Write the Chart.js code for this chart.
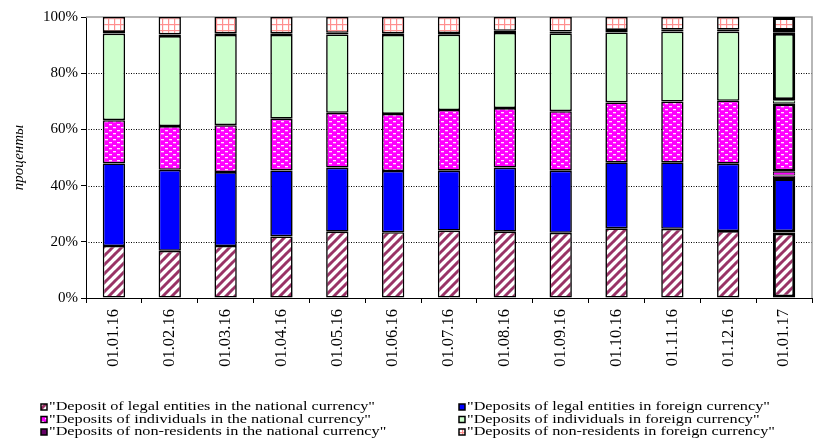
<!DOCTYPE html>
<html>
<head>
<meta charset="utf-8">
<script src="https://cdn.jsdelivr.net/npm/chart.js@4/dist/chart.umd.min.js"></script>
<style>
  html, body { margin: 0; padding: 0; background: #fff; }
  #wrap { width: 821px; height: 443px; position: relative; }
</style>
</head>
<body>
<div id="wrap"><canvas id="depositsChart"></canvas></div>
<script>
// data (share of total deposits, %)
const dates = ['01.01.16', '01.02.16', '01.03.16', '01.04.16', '01.05.16', '01.06.16', '01.07.16',
               '01.08.16', '01.09.16', '01.10.16', '01.11.16', '01.12.16', '01.01.17'];
const legalNational   = [18.5, 16.8, 18.5, 21.9, 23.6, 23.4, 24.0, 23.6, 23.2, 24.8, 24.6, 23.8, 23.3];
const legalForeign    = [29.4, 28.8, 26.3, 23.5, 22.8, 21.8, 21.3, 22.8, 22.1, 23.5, 23.7, 24.0, 19.4];
const indivNational   = [15.4, 15.6, 16.7, 18.4, 19.5, 20.3, 21.6, 21.2, 21.2, 21.3, 21.6, 22.4, 24.4];
const indivForeign    = [30.8, 32.0, 32.1, 29.8, 27.9, 28.1, 26.8, 26.7, 27.7, 24.9, 24.9, 24.6, 24.0];
const nonresNational  = [0.6, 0.6, 0.6, 0.6, 0.6, 0.6, 0.6, 0.8, 0.6, 0.9, 0.7, 0.7, 0.6];
const nonresForeign   = [5.3, 6.2, 5.8, 5.8, 5.6, 5.8, 5.7, 4.9, 5.2, 4.6, 4.5, 4.5, 5.0];
// thin extra slices that only show up in the last column
const extraDark    = [null, null, null, null, null, null, null, null, null, null, null, null, 0.9];
const extraMagenta = [null, null, null, null, null, null, null, null, null, null, null, null, 1.3];
const extraGreen   = [null, null, null, null, null, null, null, null, null, null, null, null, 1.1];
const yTicks = [0, 20, 40, 60, 80, 100];

const serif = '"Liberation Serif", "Times New Roman", serif';

function makePattern(w, h, paint) {
    const c = document.createElement('canvas');
    c.width = w; c.height = h;
    const g = c.getContext('2d');
    paint(g, w, h);
    return document.createElement('canvas').getContext('2d').createPattern(c, 'repeat');
}

const stripes = makePattern(9, 9, (g, w, h) => {
    g.fillStyle = '#fff';
    g.fillRect(0, 0, w, h);
    g.strokeStyle = '#993366';
    g.lineWidth = 3;
    for (let o = -w; o <= w; o += w) {
        g.beginPath();
        g.moveTo(o - 1, h + 1);
        g.lineTo(o + w + 1, -1);
        g.stroke();
    }
});

const dots = makePattern(8, 6, (g, w, h) => {
    g.fillStyle = '#FF00FF';
    g.fillRect(0, 0, w, h);
    g.fillStyle = 'rgba(255,255,255,0.9)';
    g.fillRect(1, 1, 3, 1.3);
    g.fillRect(5, 4, 3, 1.3);
});

const pinkGrid = makePattern(6, 6, (g, w, h) => {
    g.fillStyle = '#fff';
    g.fillRect(0, 0, w, h);
    g.fillStyle = '#FF8F8F';
    g.fillRect(0, 0, 1.2, h);
    g.fillRect(0, 0, w, 1.2);
});

const mainBorder = dates.map((d, i) => i === dates.length - 1 ? 3 : 1.6);

function series(label, data, fill, inLegend, border) {
    return {
        label: label,
        data: data,
        backgroundColor: fill,
        borderColor: '#000',
        borderWidth: border || mainBorder,
        borderSkipped: false,
        inLegend: inLegend
    };
}

const datasets = [
    series('"Deposit of legal entities in the national currency"', legalNational, stripes, true),
    series('"Deposits of legal entities in foreign currency"', legalForeign, '#0000FF', true),
    series('', extraDark, '#660066', false, 1),
    series('', extraMagenta, '#FF00FF', false, 1),
    series('"Deposits of individuals in the national currency"', indivNational, dots, true),
    series('', extraGreen, '#CCFFCC', false, 1),
    series('"Deposits of individuals in foreign currency"', indivForeign, '#CCFFCC', true),
    series('"Deposits of non-residents in the national currency"', nonresNational, '#660066', true),
    series('"Deposits of non-residents in foreign currency"', nonresForeign, pinkGrid, true)
];

// dotted grid lines, grey frame on top/right
const gridPlugin = {
    id: 'gridPlugin',
    beforeDatasetsDraw(chart) {
        const { ctx, chartArea: a, scales } = chart;
        ctx.save();
        ctx.strokeStyle = '#000';
        ctx.lineWidth = 1;
        ctx.setLineDash([1, 1.5]);
        yTicks.forEach(v => {
            if (v === 0 || v === 100) return;
            const y = Math.round(scales.y.getPixelForValue(v)) + 0.5;
            ctx.beginPath();
            ctx.moveTo(a.left, y);
            ctx.lineTo(a.right, y);
            ctx.stroke();
        });
        ctx.setLineDash([]);
        ctx.strokeStyle = '#A0A0A0';
        ctx.lineWidth = 1.5;
        ctx.beginPath();
        ctx.moveTo(a.left, a.top);
        ctx.lineTo(a.right, a.top);
        ctx.lineTo(a.right, a.bottom);
        ctx.stroke();
        ctx.restore();
    }
};

// legend in two columns below the chart (text is a bit wider than normal in the original)
const legendPlugin = {
    id: 'legendPlugin',
    afterDraw(chart) {
        const ctx = chart.ctx;
        const items = chart.data.datasets.filter(d => d.inLegend);
        const colX = [41, 459];
        const rowY = [407, 419.5, 432];
        ctx.save();
        ctx.font = '13px ' + serif;
        ctx.textBaseline = 'middle';
        items.forEach((d, i) => {
            const x = colX[i % 2];
            const y = rowY[Math.floor(i / 2)];
            ctx.fillStyle = d.backgroundColor;
            ctx.fillRect(x, y - 3, 6, 6);
            ctx.strokeStyle = '#000';
            ctx.lineWidth = 1.5;
            ctx.strokeRect(x, y - 3, 6, 6);
            ctx.save();
            ctx.translate(x + 8, y);
            ctx.scale(1.25, 1);
            ctx.fillStyle = '#000';
            ctx.fillText(d.label, 0, 0);
            ctx.restore();
        });
        ctx.restore();
    }
};

new Chart(document.getElementById('depositsChart'), {
    type: 'bar',
    data: { labels: dates, datasets: datasets },
    plugins: [gridPlugin, legendPlugin],
    options: {
        responsive: true,
        maintainAspectRatio: false,
        animation: false,
        layout: { padding: { left: 0, top: 17, right: 9, bottom: 75 } },
        datasets: { bar: { categoryPercentage: 1, barPercentage: 0.4 } },
        plugins: {
            legend: { display: false },
            tooltip: { enabled: false }
        },
        scales: {
            x: {
                stacked: true,
                afterFit: s => { s.height = 70; },
                grid: { offset: true, drawOnChartArea: false, drawTicks: true, tickLength: 5, color: '#000' },
                border: { color: '#000', width: 1 },
                ticks: {
                    minRotation: 90,
                    maxRotation: 90,
                    padding: 6,
                    color: '#000',
                    font: { family: serif, size: 16.5 }
                }
            },
            y: {
                stacked: true,
                min: 0,
                max: 100,
                afterFit: s => { s.width = 86; },
                afterBuildTicks: s => { s.ticks = yTicks.map(v => ({ value: v })); },
                grid: { drawOnChartArea: false, drawTicks: true, tickLength: 5, color: '#000' },
                border: { color: '#000', width: 1 },
                ticks: {
                    padding: 3,
                    color: '#000',
                    font: { family: serif, size: 15 },
                    callback: v => v + '%'
                },
                title: {
                    display: true,
                    text: 'проценты',
                    color: '#000',
                    padding: { top: 10, bottom: 0 },
                    font: { family: serif, size: 15, style: 'italic' }
                }
            }
        }
    }
});
</script>
</body>
</html>
